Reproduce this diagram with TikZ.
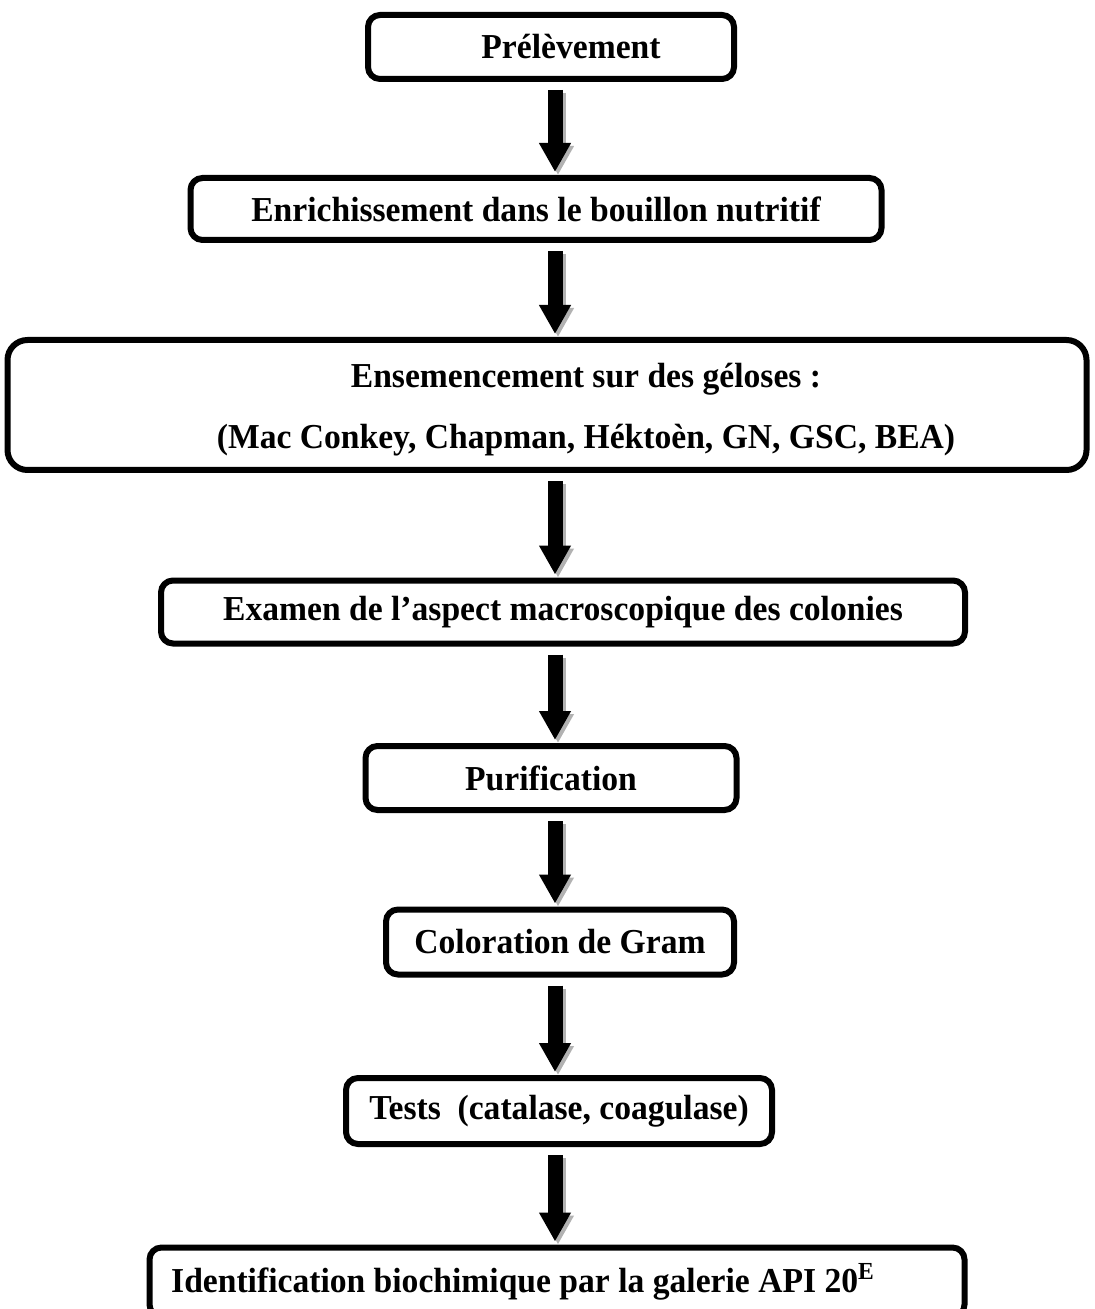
\documentclass[tikz,border=0pt]{standalone}
\usepackage{fontspec}
\setmainfont{Liberation Serif}[FakeStretch=0.96]
\usetikzlibrary{arrows.meta}

\begin{document}
\begin{tikzpicture}[x=0.5pt, y=-0.5pt, every node/.style={font=\fontsize{17.5}{30.5}\selectfont\bfseries}, etape/.style={draw, line width=3pt, rounded corners=6pt, inner sep=0pt, align=center}, fleche/.style={line width=7.5pt, -{Triangle[width=15pt, length=14.5pt]}, shorten <=4pt, shorten >=1.5pt}, ombre/.style={fleche, gray!60, transform canvas={shift={(1.5pt,-1.5pt)}}}]
	\useasboundingbox (0,0) rectangle (1095,1309);
	\clip (0,0) rectangle (1095,1309);
	\coordinate (axe) at (555,0);
	\node[etape, minimum width=183pt, minimum height=32pt] (prelev) at (551,47) {\hspace*{20pt}Prélèvement};
	\node[etape, minimum width=345.5pt, minimum height=31pt] (enrich) at (536,209) {Enrichissement dans le bouillon nutritif};
	\node[etape, rounded corners=10pt, minimum width=539.5pt, minimum height=65pt, label={[align=center, xshift=19.5pt, yshift=-2.5pt]center:Ensemencement sur des géloses :\\(Mac Conkey, Chapman, Héktoèn, GN, GSC, BEA)}] (ensem) at (547,405) {};
	\node[etape, minimum width=402pt, minimum height=31.5pt] (examen) at (563,612) {Examen de l'aspect macroscopique des colonies};
	\node[etape, minimum width=185.5pt, minimum height=32pt] (purif) at (551,778) {Purification};
	\node[etape, minimum width=174pt, minimum height=32.5pt] (gram) at (560,942) {Coloration de Gram};
	\node[etape, minimum width=213pt, minimum height=33pt] (tests) at (559,1111) {Tests~ (catalase, coagulase)};
	\node[etape, minimum width=407.5pt, minimum height=34.5pt, label={[xshift=-17pt]center:Identification biochimique par la galerie API 20\textsuperscript{E}}] (api) at (557,1282) {};
	\foreach \a/\b in {prelev/enrich, enrich/ensem, ensem/examen, examen/purif, purif/gram, gram/tests, tests/api} {
		\draw[ombre] (\a.south -| axe) -- (\b.north -| axe);
		\draw[fleche] (\a.south -| axe) -- (\b.north -| axe);
	}
\end{tikzpicture}
\end{document}
